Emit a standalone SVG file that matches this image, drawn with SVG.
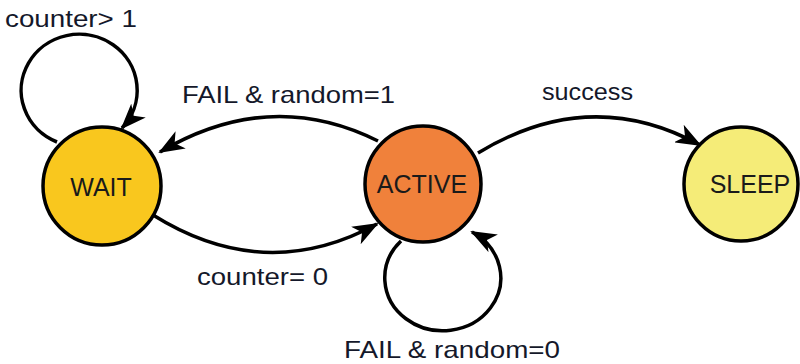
<svg xmlns="http://www.w3.org/2000/svg" width="800" height="364" viewBox="0 0 800 364">
<style>
.node{stroke:#000;stroke-width:3.5}
.lbl{font-family:"Liberation Sans",Arial,sans-serif;font-size:25px;fill:#1a1a1a;text-anchor:middle}
.edge{fill:none;stroke:#000;stroke-width:3.5}
.elbl{font-family:"Liberation Sans",Arial,sans-serif;font-size:24px;fill:#14182a}
</style>
<defs>
<marker id="ah" viewBox="0 0 26 20" refX="24" refY="10" markerWidth="26" markerHeight="20" markerUnits="userSpaceOnUse" orient="auto">
<path d="M0,0 L26,10 L0,20 L7,10 z" fill="#000"/>
</marker>
</defs>
<rect width="800" height="364" fill="#fff"/>
<g id="connectors">
<path class="edge" d="M57,142 A58,56 0 1 1 122,128" marker-end="url(#ah)"/>
<path class="edge" d="M378,141 Q270,87 160,152" marker-end="url(#ah)"/>
<path class="edge" d="M153,215 Q265,285 377,224" marker-end="url(#ah)"/>
<path class="edge" d="M478,153 Q590,85 700,145" marker-end="url(#ah)"/>
<path class="edge" d="M401,241 A58,53 0 1 0 472,232" marker-end="url(#ah)"/>
<text class="elbl" x="5" y="27" textLength="132" lengthAdjust="spacingAndGlyphs">counter&gt; 1</text>
<text class="elbl" x="182" y="103" textLength="213" lengthAdjust="spacingAndGlyphs">FAIL &amp; random=1</text>
<text class="elbl" x="542" y="100" textLength="91" lengthAdjust="spacingAndGlyphs">success</text>
<text class="elbl" x="197" y="285" textLength="131" lengthAdjust="spacingAndGlyphs">counter= 0</text>
<text class="elbl" x="344" y="358" textLength="216" lengthAdjust="spacingAndGlyphs">FAIL &amp; random=0</text>
</g>
<g id="WAIT">
<circle class="node" cx="102" cy="186" r="59" fill="#F9C71E"/>
<text class="lbl" x="101" y="196">WAIT</text>
</g>
<g id="ACTIVE">
<circle class="node" cx="423" cy="184" r="58" fill="#F0813B"/>
<text class="lbl" x="422" y="193">ACTIVE</text>
</g>
<g id="SLEEP">
<circle class="node" cx="741" cy="184" r="57" fill="#F5EC78"/>
<text class="lbl" x="750" y="193">SLEEP</text>
</g>
</svg>
